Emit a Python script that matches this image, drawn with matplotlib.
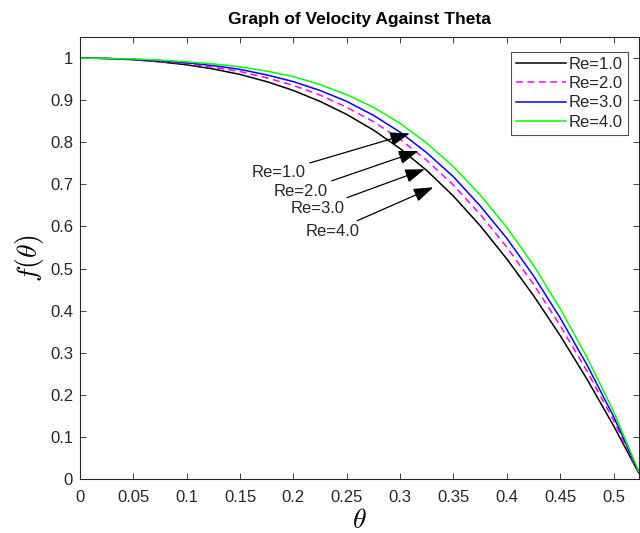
import numpy as np
import matplotlib
matplotlib.use("Agg")
import matplotlib.pyplot as plt

plt.rcParams["font.family"] = ["Liberation Sans", "DejaVu Sans"]
plt.rcParams["mathtext.fontset"] = "cm"

# values
theta = [0.0, 0.025, 0.05, 0.075, 0.1, 0.125, 0.15, 0.175, 0.2, 0.225, 0.25,
         0.275, 0.3, 0.325, 0.35, 0.375, 0.4, 0.425, 0.45, 0.475, 0.5, 0.5236]
f_re1 = [1.000, 0.999, 0.996, 0.991, 0.984, 0.974, 0.961, 0.944, 0.923, 0.897, 0.866,
         0.829, 0.785, 0.733, 0.672, 0.602, 0.523, 0.436, 0.341, 0.238, 0.127, 0.015]
f_re2 = [1.000, 0.999, 0.997, 0.992, 0.987, 0.978, 0.968, 0.953, 0.935, 0.912, 0.883,
         0.849, 0.807, 0.757, 0.698, 0.629, 0.551, 0.463, 0.365, 0.257, 0.140, 0.016]
f_re3 = [1.000, 0.999, 0.997, 0.994, 0.989, 0.982, 0.973, 0.960, 0.944, 0.923, 0.897,
         0.864, 0.824, 0.775, 0.718, 0.649, 0.572, 0.483, 0.383, 0.272, 0.149, 0.018]
f_re4 = [1.000, 0.999, 0.998, 0.995, 0.991, 0.986, 0.979, 0.969, 0.956, 0.937, 0.913,
         0.883, 0.845, 0.798, 0.742, 0.675, 0.598, 0.508, 0.405, 0.290, 0.161, 0.019]
labels = ["Re=1.0", "Re=2.0", "Re=3.0", "Re=4.0"]

# annotation arrows: (text anchor, arrow tip) in data units
note_text_xy = [(0.2115, 0.729), (0.232, 0.683), (0.248, 0.643), (0.262, 0.588)]
note_tip_xy = [(0.309, 0.821), (0.317, 0.779), (0.323, 0.736), (0.331, 0.693)]

xticks = [0, 0.05, 0.1, 0.15, 0.2, 0.25, 0.3, 0.35, 0.4, 0.45, 0.5]
yticks = [0, 0.1, 0.2, 0.3, 0.4, 0.5, 0.6, 0.7, 0.8, 0.9, 1]

fig = plt.figure(figsize=(6.4, 5.33), dpi=100)
ax = fig.add_axes([0.125, 0.101, 0.873, 0.8296])

ax.plot(theta, f_re1, color="black", lw=1.1, label=labels[0])
ax.plot(theta, f_re2, color="#ff00ff", lw=1.1, dashes=(4.5, 3), label=labels[1])
ax.plot(theta, f_re3, color="#0000ff", lw=1.1, label=labels[2])
ax.plot(theta, f_re4, color="#00ff00", lw=1.1, label=labels[3])

for lab, txy, tip in zip(labels, note_text_xy, note_tip_xy):
    ax.annotate(lab, xy=tip, xytext=txy, ha="right", va="center",
                fontsize=12, color="#262626",
                arrowprops=dict(arrowstyle="-|>,head_length=0.8,head_width=0.28",
                                color="black", lw=0.9,
                                mutation_scale=15, shrinkA=1, shrinkB=0))

ax.set_xlim(0, np.pi / 6)
ax.set_ylim(0, 1.05)
ax.set_xticks(xticks)
ax.set_xticklabels([("%g" % t) for t in xticks])
ax.set_yticks(yticks)
ax.set_yticklabels([("%g" % t) for t in yticks])
ax.tick_params(direction="in", length=4, width=0.6, labelsize=12,
               colors="#262626", top=True, right=True, pad=5)
ax.tick_params(axis="x", pad=8)
for s in ax.spines.values():
    s.set_color("#262626")
    s.set_linewidth(0.8)

ax.set_title("Graph of Velocity Against Theta", fontsize=12.5, fontweight="bold",
             color="black", pad=9)
ax.set_xlabel(r"$\theta$", fontsize=20, labelpad=2)
ax.set_ylabel(r"$f(\theta)$", fontsize=20, labelpad=3)

leg = ax.legend(loc="upper right", bbox_to_anchor=(0.98, 0.966), fontsize=12,
                frameon=True, fancybox=False, borderaxespad=0, handlelength=3.0,
                handletextpad=0.15, labelspacing=0.25, borderpad=0.3)
leg.get_frame().set_edgecolor("#262626")
leg.get_frame().set_linewidth(0.8)
for t in leg.get_texts():
    t.set_color("#262626")

fig.savefig("out.png", dpi=100)
